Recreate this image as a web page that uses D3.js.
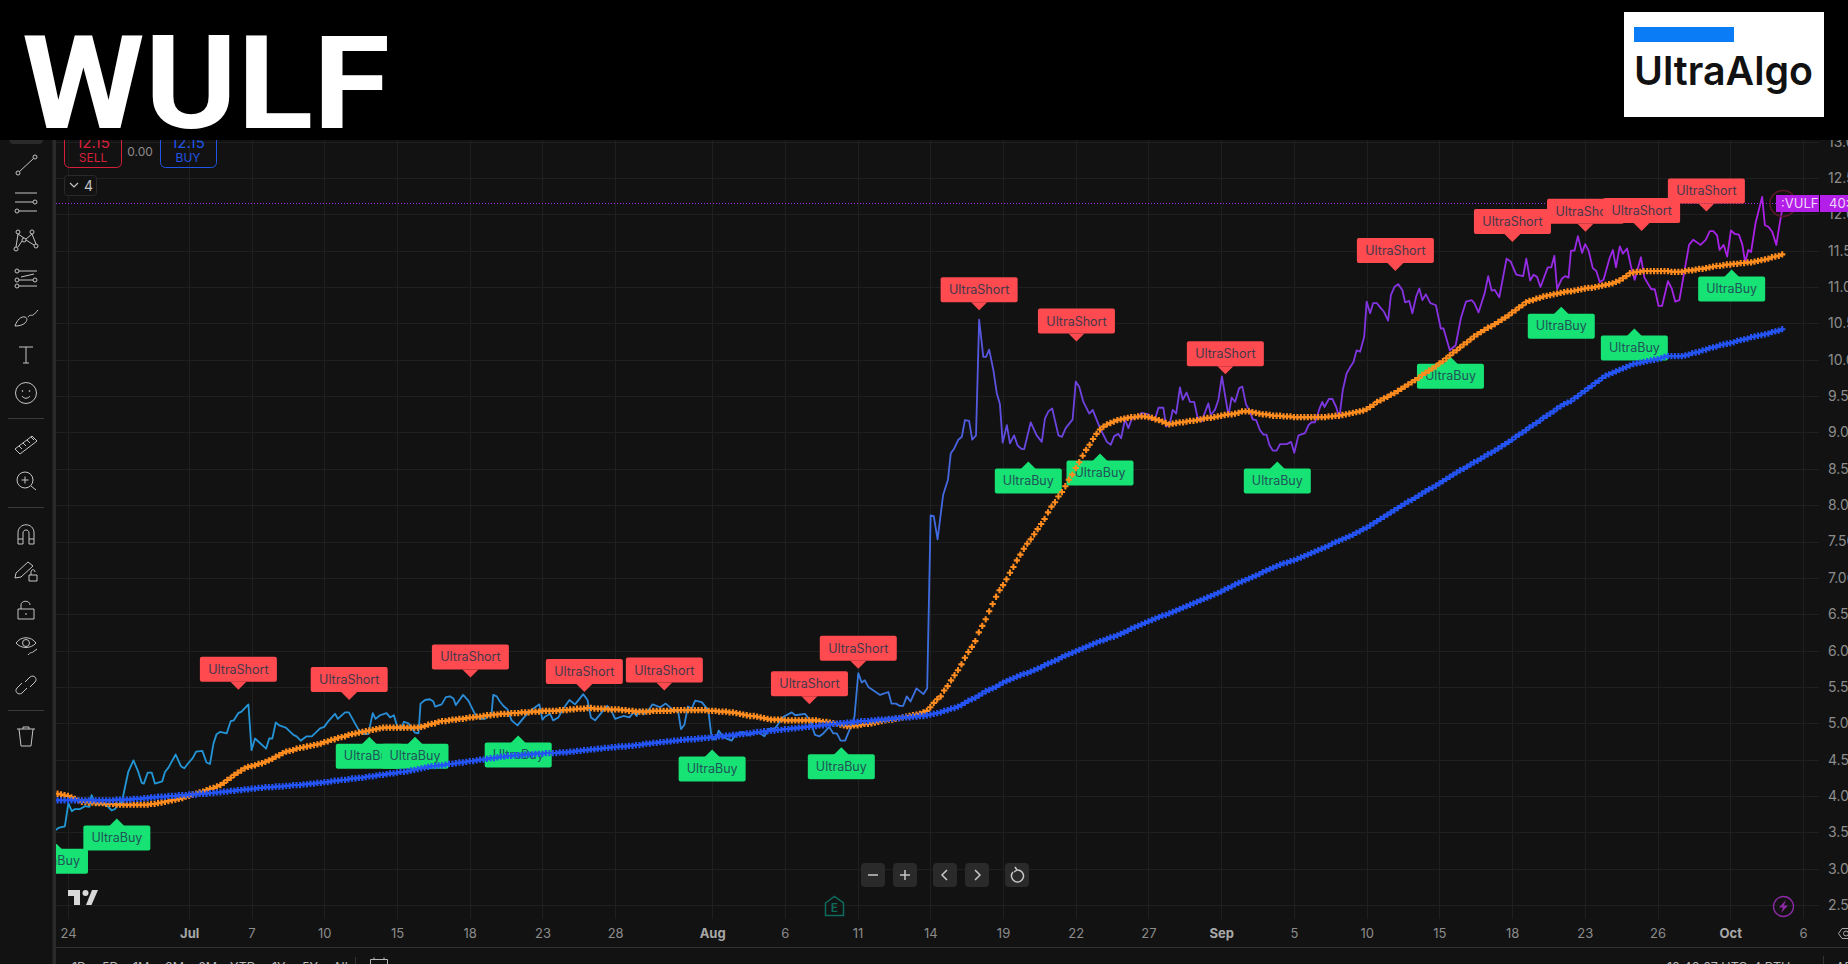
<!DOCTYPE html>
<html>
<head>
<meta charset="utf-8">
<script src="https://cdn.jsdelivr.net/npm/d3@7"></script>
<style>
  html, body { margin: 0; padding: 0; background: #121212; overflow: hidden; }
  text { font-family: Inter, Roboto, sans-serif; }
</style>
</head>
<body>
<div id="chart"></div>
<script>
const ticker = 'WULF'
const brand = 'UltraAlgo'
const lastPrice = 12.15

const priceTicks = [2.5, 3, 3.5, 4, 4.5, 5, 5.5, 6, 6.5, 7, 7.5, 8, 8.5, 9, 9.5, 10, 10.5, 11, 11.5, 12, 12.5, 13]
const timeTickBars = [0, 35, 53, 74, 95, 116, 137, 158, 186, 207, 228, 249, 270, 291, 312, 333, 354, 375, 396, 417, 438, 459, 480, 501]
const timeTickLabels = ['24', 'Jul', '7', '10', '15', '18', '23', '28', 'Aug', '6', '11', '14', '19', '22', '27', 'Sep', '5', '10', '15', '18', '23', '26', 'Oct', '6']
const monthLabels = ['Jul', 'Aug', 'Sep', 'Oct']

// [bar, price], bar 0 is the session of the 24th
const pricePoints = [
  [-3.5,3.53],[-2.8,3.56],[-0.9,3.58],[0.1,3.90],[1.1,3.79],[2,3.82],[3.5,3.82],[4.9,3.86],[6.2,3.85],[6.8,4.01],
  [8,3.88],[9.7,3.89],[11.2,3.87],[12.6,3.80],[13.6,3.82],[14.5,3.89],[15.5,3.90],[16.5,4.13],[17.4,4.33],[18.9,4.49],
  [20.3,4.33],[21.3,4.18],[21.9,4.17],[23,4.32],[24.2,4.32],[25.1,4.17],[27.2,4.20],[28,4.33],[29,4.39],[31.1,4.57],
  [32.6,4.41],[33.6,4.38],[34.7,4.45],[36,4.52],[37,4.61],[38.8,4.62],[40,4.46],[41,4.44],[42,4.72],[42.9,4.85],
  [43.9,4.88],[45.8,4.86],[47,5.03],[47.9,5.04],[49.2,5.14],[50.1,5.16],[52.1,5.26],[53,4.63],[54,4.79],[57.2,4.65],
  [58.1,4.79],[59,4.79],[60,5.01],[61,4.97],[62.9,4.94],[65.1,4.84],[66,4.82],[67.2,4.76],[68.9,4.82],[70.4,4.82],
  [72.8,4.93],[74,4.95],[75.2,5.03],[77.1,5.13],[77.9,5.06],[80,5.15],[81.1,5.15],[83.8,4.92],[85.3,4.85],[86.7,4.85],
  [88,5.14],[88.8,5.06],[90.1,5.11],[92,5.14],[93,5.08],[94.1,5.11],[94.9,4.98],[96.1,4.91],[97,5.02],[98.3,5.00],
  [100.2,4.87],[101.2,4.86],[101.8,5.27],[103.1,5.32],[104.5,5.33],[105.5,5.30],[106,5.23],[107.9,5.26],[109.1,5.36],[110.3,5.37],
  [111.3,5.34],[112,5.25],[114.1,5.39],[115.6,5.31],[117.5,5.13],[119,5.06],[120.4,5.06],[122.3,5.13],[122.8,5.39],[123.8,5.37],
  [124.7,5.30],[125.7,5.24],[126.9,5.19],[128.1,5.04],[129.8,4.97],[131.5,5.07],[133.4,5.17],[136.1,5.26],[137,5.05],[137.7,5.09],
  [139.2,5.13],[140.1,5.04],[141.6,5.08],[143,5.20],[144.8,5.32],[146.4,5.26],[148.8,5.40],[150,5.32],[151,5.08],[152.2,5.04],
  [155.7,5.24],[157,5.16],[158,5.06],[160.4,5.10],[162.1,5.08],[163.3,5.15],[164.2,5.10],[165.2,5.19],[166.1,5.12],[167.6,5.18],
  [168.8,5.26],[171,5.22],[172.6,5.27],[174.8,5.18],[176.2,5.16],[177,4.92],[178,4.98],[179,5.23],[180.1,5.20],[181.1,5.31],
  [183,5.29],[184.9,5.18],[185.9,4.78],[187.1,4.78],[187.9,4.90],[189.2,4.81],[191.6,4.76],[192.9,4.85],[195,4.88],[196.5,4.84],
  [199.3,4.88],[201.1,4.82],[202.2,4.92],[204.2,4.93],[206.6,5.09],[209,5.15],[210,5.11],[212.8,5.13],[214.3,5.04],[215.7,4.84],
  [217,4.82],[218.1,4.86],[219.8,4.95],[221,4.86],[222,4.86],[223.1,4.76],[224.4,4.76],[226.3,4.98],[227.1,5.09],[228.2,5.69],
  [229.2,5.56],[230.1,5.59],[231.1,5.50],[234.5,5.39],[236.9,5.43],[237.8,5.27],[239.1,5.27],[240.1,5.24],[241.2,5.24],[242.2,5.37],
  [243.3,5.30],[245,5.48],[247,5.40],[248.1,5.48],[249.1,7.86],[250,7.85],[251.1,7.53],[252.7,8.14],[254.1,8.35],[254.9,8.71],
  [255.9,8.78],[257.1,8.90],[258.1,8.94],[259,9.17],[260.2,9.16],[261.1,8.90],[262.2,8.96],[263.1,10.55],[264.3,10.04],[265.1,10.04],
  [266,10.14],[267.2,9.86],[268.2,9.54],[269.1,9.39],[269.9,8.86],[271.1,9.10],[272,8.85],[273.2,8.96],[274.2,8.82],[275.4,8.77],
  [276.1,8.77],[278,9.14],[279.7,8.96],[281.2,8.87],[282.1,9.19],[283.1,9.29],[284.2,9.33],[286,8.96],[287,8.94],[288.1,9.06],
  [290.1,9.18],[291,9.70],[292,9.63],[293.2,9.42],[294.9,9.26],[295.9,9.31],[298,9.06],[300,8.87],[301.1,8.83],[302.1,8.95],
  [303.3,8.98],[304.1,8.92],[305.2,9.18],[306.2,9.06],[307.2,9.19],[309.1,9.21],[310,9.27],[312,9.25],[312.9,9.17],[313.9,9.19],
  [314.9,9.34],[316.3,9.34],[317.1,9.08],[318.2,9.13],[319,9.31],[320,9.26],[321.1,9.62],[321.9,9.45],[323,9.55],[324,9.42],
  [325.2,9.42],[326.1,9.22],[327.3,9.15],[329.3,9.40],[330,9.24],[331.2,9.31],[332.2,9.45],[333.2,9.77],[335.1,9.23],[336,9.48],
  [337,9.42],[338.2,9.61],[339.1,9.63],[340.2,9.38],[341.1,9.31],[342.1,9.18],[343.1,9.17],[344.2,9.03],[345.2,8.97],[346.1,8.97],
  [346.9,8.83],[347.9,8.75],[349,8.75],[350,8.84],[351.9,8.84],[353.2,8.87],[354.1,8.72],[355.3,8.96],[357.2,8.99],[358.2,9.10],
  [359.1,9.14],[360.1,9.14],[361.4,9.33],[362.2,9.42],[362.8,9.35],[364.1,9.46],[365.1,9.46],[366.2,9.35],[367.1,9.20],[368.1,9.58],
  [369.2,9.81],[370.4,9.91],[371.2,9.97],[372.1,10.13],[373.1,10.11],[374.3,10.32],[375,10.80],[376,10.64],[376.9,10.78],[377.9,10.78],
  [378.9,10.72],[380,10.66],[381.2,10.54],[382,10.89],[383,11.00],[384.1,11.04],[385.3,10.96],[386.1,10.79],[387.3,10.81],[388.2,10.64],
  [389.3,10.87],[390.2,10.98],[391.1,10.82],[392.1,10.90],[393.4,10.78],[395,10.75],[396.4,10.43],[397.2,10.43],[399,10.13],[400.7,10.20],
  [402.2,10.57],[403.7,10.80],[405.3,10.82],[406.1,10.78],[407.3,10.65],[409.1,10.92],[410.1,11.15],[411.1,10.95],[412,10.96],[413.3,10.86],
  [415.4,11.39],[416.6,11.35],[418.2,11.17],[420.2,11.15],[421.1,11.39],[422.2,11.09],[423.2,11.17],[424.2,11.14],[425.2,11.00],[427.3,11.27],
  [428.3,11.27],[429.2,11.43],[430,10.97],[431.3,11.11],[432.3,11.15],[433.3,11.13],[434,11.50],[435,11.50],[436,11.70],[437.2,11.47],
  [438.1,11.59],[439.1,11.50],[440.3,11.26],[441.3,11.22],[442.3,11.07],[443.4,11.10],[445.1,11.39],[446.1,11.51],[447,11.27],[448.1,11.56],
  [449,11.46],[450.2,11.53],[451.4,11.27],[452.4,11.10],[454.2,11.41],[455.2,11.13],[457.2,10.97],[458.2,10.97],[459.3,10.74],[460.3,10.74],
  [462,11.08],[463.1,10.98],[464.1,10.80],[465.3,10.82],[466.8,11.23],[468.1,11.58],[469.3,11.65],[471.4,11.58],[472.9,11.65],[474.1,11.77],
  [475.1,11.77],[476.2,11.71],[476.9,11.51],[478.1,11.58],[479.1,11.42],[480.2,11.78],[481.3,11.73],[482.5,11.72],[483.5,11.58],[484.3,11.34],
  [485.2,11.51],[486,11.48],[487.3,11.88],[489.2,12.24],[490,11.85],[491,11.83],[492.1,11.76],[493.3,11.58],[494.3,11.88],[495.3,12.15]
]

// one value per bar, starting at bar -3
const firstMaBar = -3
const orangeValues = [
  4.03,4.02,4.01,
  4.00,3.98,3.96,3.94,3.92,3.92,3.91,3.91,3.90,3.90,
  3.90,3.89,3.89,3.89,3.88,3.88,3.88,3.88,3.88,3.88,
  3.88,3.88,3.88,3.88,3.89,3.89,3.90,3.91,3.92,3.93,
  3.94,3.95,3.96,3.97,3.99,4.00,4.02,4.03,4.05,4.06,
  4.08,4.10,4.11,4.13,4.15,4.18,4.22,4.25,4.29,4.32,
  4.35,4.38,4.40,4.41,4.42,4.44,4.45,4.47,4.49,4.51,
  4.54,4.56,4.59,4.61,4.62,4.63,4.65,4.66,4.67,4.68,
  4.69,4.70,4.71,4.72,4.74,4.75,4.77,4.78,4.80,4.81,
  4.82,4.84,4.85,4.86,4.87,4.88,4.89,4.90,4.91,4.92,
  4.93,4.94,4.94,4.94,4.94,4.94,4.94,4.94,4.94,4.94,
  4.94,4.94,4.95,4.96,4.98,4.99,5.00,5.02,5.03,5.03,
  5.04,5.05,5.05,5.06,5.06,5.07,5.08,5.08,5.09,5.09,
  5.10,5.11,5.11,5.12,5.12,5.13,5.13,5.13,5.14,5.14,
  5.14,5.15,5.15,5.15,5.16,5.16,5.16,5.17,5.17,5.17,
  5.17,5.17,5.18,5.18,5.18,5.19,5.19,5.20,5.20,5.20,
  5.21,5.21,5.20,5.20,5.20,5.20,5.19,5.19,5.19,5.19,
  5.18,5.18,5.17,5.17,5.16,5.16,5.16,5.16,5.16,5.17,
  5.17,5.17,5.17,5.17,5.17,5.18,5.18,5.18,5.18,5.18,
  5.18,5.18,5.18,5.18,5.18,5.17,5.17,5.17,5.16,5.16,
  5.16,5.15,5.15,5.14,5.13,5.12,5.11,5.10,5.10,5.09,
  5.08,5.07,5.06,5.05,5.05,5.05,5.05,5.04,5.04,5.04,
  5.04,5.04,5.04,5.04,5.04,5.04,5.04,5.03,5.02,5.02,
  5.01,5.00,4.99,4.98,4.97,4.96,4.96,4.97,4.97,4.98,
  4.99,4.99,5.00,5.01,5.02,5.03,5.04,5.05,5.05,5.06,
  5.07,5.08,5.09,5.10,5.11,5.12,5.13,5.15,5.17,5.22,
  5.28,5.33,5.37,5.45,5.51,5.59,5.66,5.73,5.81,5.90,
  5.98,6.05,6.13,6.25,6.34,6.43,6.54,6.64,6.74,6.83,
  6.90,6.98,7.07,7.15,7.24,7.32,7.40,7.47,7.53,7.60,
  7.67,7.74,7.81,7.90,7.98,8.04,8.12,8.18,8.26,8.35,
  8.42,8.51,8.59,8.68,8.76,8.83,8.91,8.98,9.04,9.08,
  9.11,9.13,9.15,9.17,9.18,9.19,9.20,9.21,9.21,9.22,
  9.22,9.22,9.21,9.20,9.18,9.17,9.15,9.13,9.11,9.12,
  9.13,9.14,9.14,9.15,9.16,9.16,9.17,9.18,9.19,9.20,
  9.20,9.21,9.22,9.23,9.24,9.25,9.25,9.26,9.27,9.29,
  9.29,9.29,9.28,9.27,9.26,9.25,9.25,9.24,9.23,9.23,
  9.23,9.22,9.22,9.22,9.21,9.21,9.21,9.21,9.21,9.21,
  9.21,9.21,9.21,9.21,9.22,9.22,9.23,9.23,9.24,9.25,
  9.26,9.27,9.28,9.29,9.30,9.32,9.35,9.38,9.42,9.44,
  9.47,9.49,9.52,9.54,9.57,9.60,9.63,9.66,9.69,9.72,
  9.75,9.79,9.82,9.85,9.88,9.91,9.95,9.98,10.02,10.06,
  10.10,10.13,10.17,10.21,10.24,10.28,10.32,10.35,10.38,10.41,
  10.44,10.46,10.49,10.52,10.55,10.58,10.61,10.65,10.68,10.72,
  10.75,10.79,10.81,10.82,10.84,10.85,10.87,10.88,10.89,10.90,
  10.91,10.92,10.93,10.94,10.94,10.95,10.96,10.97,10.98,10.99,
  10.99,11.00,11.01,11.02,11.03,11.04,11.05,11.07,11.09,11.12,
  11.15,11.19,11.20,11.21,11.21,11.22,11.22,11.22,11.22,11.22,
  11.22,11.22,11.22,11.21,11.21,11.21,11.21,11.22,11.23,11.23,
  11.24,11.25,11.25,11.26,11.27,11.28,11.29,11.29,11.30,11.31,
  11.31,11.32,11.32,11.33,11.33,11.34,11.34,11.35,11.36,11.37,
  11.38,11.39,11.41,11.42,11.43,11.45
]
const blueValues = [
  3.94,3.94,3.94,
  3.94,3.94,3.94,3.94,3.94,3.94,3.94,3.94,3.94,3.94,
  3.94,3.94,3.94,3.94,3.95,3.95,3.95,3.95,3.95,3.96,
  3.96,3.96,3.97,3.97,3.98,3.98,3.99,3.99,3.99,4.00,
  4.00,4.00,4.01,4.01,4.01,4.02,4.02,4.02,4.03,4.03,
  4.03,4.04,4.04,4.05,4.05,4.06,4.06,4.07,4.07,4.08,
  4.08,4.09,4.09,4.10,4.10,4.11,4.11,4.12,4.12,4.12,
  4.13,4.13,4.13,4.14,4.14,4.15,4.15,4.15,4.16,4.16,
  4.17,4.17,4.18,4.18,4.19,4.19,4.20,4.21,4.21,4.22,
  4.22,4.23,4.24,4.24,4.25,4.25,4.26,4.27,4.27,4.28,
  4.29,4.29,4.30,4.31,4.31,4.32,4.33,4.33,4.34,4.35,
  4.36,4.37,4.38,4.39,4.40,4.41,4.41,4.42,4.42,4.43,
  4.44,4.44,4.45,4.46,4.46,4.47,4.48,4.48,4.49,4.50,
  4.50,4.51,4.52,4.52,4.53,4.54,4.54,4.55,4.55,4.56,
  4.56,4.56,4.57,4.57,4.57,4.58,4.58,4.58,4.59,4.59,
  4.59,4.59,4.60,4.60,4.60,4.61,4.61,4.62,4.62,4.63,
  4.63,4.64,4.64,4.65,4.65,4.66,4.66,4.67,4.67,4.68,
  4.68,4.68,4.69,4.69,4.70,4.70,4.71,4.72,4.72,4.73,
  4.73,4.74,4.74,4.75,4.75,4.76,4.76,4.77,4.77,4.78,
  4.78,4.78,4.79,4.79,4.80,4.80,4.81,4.81,4.82,4.82,
  4.83,4.83,4.84,4.84,4.85,4.85,4.86,4.86,4.87,4.88,
  4.88,4.89,4.89,4.90,4.90,4.91,4.91,4.92,4.92,4.93,
  4.93,4.94,4.94,4.95,4.95,4.96,4.96,4.97,4.97,4.98,
  4.98,4.99,4.99,5.00,5.00,5.01,5.01,5.02,5.02,5.03,
  5.03,5.03,5.04,5.04,5.05,5.05,5.05,5.06,5.06,5.07,
  5.07,5.08,5.08,5.08,5.09,5.09,5.10,5.10,5.11,5.12,
  5.13,5.14,5.15,5.17,5.18,5.20,5.21,5.23,5.25,5.28,
  5.31,5.33,5.35,5.38,5.41,5.44,5.46,5.48,5.50,5.53,
  5.56,5.58,5.60,5.62,5.64,5.66,5.68,5.69,5.71,5.73,
  5.75,5.77,5.80,5.82,5.84,5.86,5.88,5.91,5.93,5.95,
  5.97,5.99,6.01,6.03,6.05,6.07,6.09,6.11,6.13,6.14,
  6.16,6.18,6.19,6.21,6.23,6.25,6.27,6.30,6.32,6.34,
  6.36,6.38,6.40,6.42,6.44,6.46,6.48,6.49,6.51,6.53,
  6.55,6.57,6.59,6.61,6.63,6.65,6.67,6.69,6.71,6.73,
  6.75,6.77,6.79,6.81,6.84,6.86,6.88,6.91,6.93,6.95,
  6.97,6.99,7.01,7.03,7.05,7.08,7.10,7.12,7.14,7.16,
  7.18,7.20,7.21,7.23,7.24,7.26,7.28,7.30,7.32,7.34,
  7.36,7.38,7.40,7.42,7.44,7.47,7.49,7.51,7.53,7.55,
  7.57,7.59,7.62,7.64,7.67,7.69,7.72,7.75,7.78,7.81,
  7.84,7.87,7.90,7.93,7.96,7.99,8.02,8.05,8.07,8.10,
  8.13,8.16,8.19,8.22,8.24,8.27,8.30,8.33,8.36,8.39,
  8.42,8.45,8.48,8.50,8.53,8.56,8.59,8.61,8.64,8.67,
  8.70,8.72,8.75,8.78,8.81,8.84,8.87,8.90,8.94,8.97,
  9.00,9.03,9.07,9.10,9.13,9.16,9.20,9.23,9.26,9.29,
  9.33,9.36,9.39,9.41,9.43,9.47,9.50,9.54,9.57,9.61,
  9.64,9.68,9.71,9.75,9.78,9.80,9.82,9.84,9.86,9.88,
  9.90,9.92,9.94,9.95,9.96,9.97,9.98,9.99,10.00,10.01,
  10.02,10.04,10.05,10.05,10.05,10.05,10.05,10.06,10.07,10.09,
  10.10,10.11,10.13,10.14,10.16,10.17,10.18,10.20,10.21,10.22,
  10.23,10.24,10.26,10.27,10.28,10.29,10.31,10.32,10.33,10.34,
  10.35,10.36,10.38,10.39,10.40,10.42
]

// signal flags: the bar and the price the arrow tip points at
const shortBars = [49.2, 81.2, 116.2, 149.1, 172.2, 214.1, 228.2, 263.1, 291.2, 334.2, 383.3, 417.1, 438.2, 454.4, 473.1]
const shortPrices = [5.46, 5.32, 5.63, 5.43, 5.45, 5.26, 5.75, 10.68, 10.25, 9.80, 11.22, 11.62, 11.76, 11.77, 12.04]
const buyBars = [-3.9, 14.1, 87, 100.2, 130, 186, 223.3, 277.3, 298, 349.2, 399.2, 431.2, 452.3, 480.4]
const buyPrices = [3.37, 3.69, 4.815, 4.815, 4.83, 4.64, 4.67, 8.60, 8.71, 8.60, 10.04, 10.73, 10.43, 11.24]

const rangeButtons = ['1D', '5D', '1M', '3M', '6M', 'YTD', '1Y', '5Y', 'All']
const rangeButtonX = [72, 102, 133, 165, 198, 230, 272, 302, 333]

const paneLeft = 56
const paneRight = 1819
const paneTop = 140
const paneBottom = 919

const svg = d3.select('#chart').append('svg')
  .attr('width', 1848)
  .attr('height', 964)
  .style('display', 'block')

const x = d3.scaleLinear().domain([0, 501]).range([68, 1803])
const y = d3.scaleLinear().domain([2.5, 13]).range([905, 141.65])

const defs = svg.append('defs')
defs.append('clipPath').attr('id', 'pane').append('rect')
  .attr('x', paneLeft)
  .attr('y', paneTop)
  .attr('width', paneRight - paneLeft)
  .attr('height', paneBottom - paneTop)

const lineGradient = defs.append('linearGradient')
  .attr('id', 'priceStroke')
  .attr('gradientUnits', 'userSpaceOnUse')
  .attr('x1', paneLeft).attr('x2', 1790)
  .attr('y1', 0).attr('y2', 0)
lineGradient.selectAll('stop')
  .data([[0, '#1f9ad6'], [0.42, '#3282d8'], [0.5, '#3b6fe0'], [0.56, '#6a45e0'], [0.75, '#7f35e0'], [1, '#b01fe8']])
  .join('stop')
  .attr('offset', d => d[0])
  .attr('stop-color', d => d[1])

svg.append('rect')
  .attr('width', 1848)
  .attr('height', 964)
  .attr('fill', '#121212')

// grid
const grid = svg.append('g').attr('stroke', '#1f1f1f')
grid.selectAll('.h')
  .data(priceTicks)
  .join('line')
  .attr('x1', paneLeft).attr('x2', paneRight)
  .attr('y1', d => Math.round(y(d)) + 0.5)
  .attr('y2', d => Math.round(y(d)) + 0.5)
grid.selectAll('.v')
  .data(timeTickBars)
  .join('line')
  .attr('y1', paneTop).attr('y2', paneBottom)
  .attr('x1', d => Math.round(x(d)) + 0.5)
  .attr('x2', d => Math.round(x(d)) + 0.5)

// axes
const xAxis = d3.axisBottom(x)
  .tickValues(timeTickBars)
  .tickSize(0)
  .tickPadding(0)
  .tickFormat((d, i) => timeTickLabels[i])
const xAxisG = svg.append('g')
  .attr('transform', 'translate(0, 929)')
  .call(xAxis)
xAxisG.select('.domain').remove()
xAxisG.selectAll('text')
  .attr('fill', d => monthLabels.includes(timeTickLabels[timeTickBars.indexOf(d)]) ? '#a8a8a8' : '#8c8c8c')
  .attr('font-weight', d => monthLabels.includes(timeTickLabels[timeTickBars.indexOf(d)]) ? 700 : 400)
  .style('font-size', '13px')
  .style('font-family', 'Inter, sans-serif')

const yAxis = d3.axisRight(y)
  .tickValues(priceTicks)
  .tickSize(0)
  .tickPadding(0)
  .tickFormat(d3.format('.2f'))
const yAxisG = svg.append('g')
  .attr('transform', 'translate(1828, 0)')
  .call(yAxis)
yAxisG.select('.domain').remove()
yAxisG.selectAll('text')
  .attr('fill', '#8c8c8c')
  .style('font-size', '14px')
  .style('font-family', 'Inter, sans-serif')

svg.append('line')
  .attr('x1', paneLeft).attr('x2', 1848)
  .attr('y1', 947.5).attr('y2', 947.5)
  .attr('stroke', '#333')

// marks
const pane = svg.append('g').attr('clip-path', 'url(#pane)')

pane.append('line')
  .attr('x1', paneLeft).attr('x2', x(495.3))
  .attr('y1', Math.floor(y(lastPrice)) + 0.5).attr('y2', Math.floor(y(lastPrice)) + 0.5)
  .attr('stroke', '#a32be8')
  .attr('stroke-dasharray', '1 2')

function drawFlags(bars, prices, color, textColor, width, up, label) {
  const flags = pane.append('g')
    .selectAll('g')
    .data(bars)
    .join('g')
    .attr('transform', (d, i) => 'translate(' + x(d) + ',' + y(prices[i]) + ')')
  const dir = up ? 1 : -1
  flags.append('path')
    .attr('fill', color)
    .attr('d', 'M0 0L-8 ' + dir * 8 + 'L8 ' + dir * 8 + 'Z')
  flags.append('rect')
    .attr('fill', color)
    .attr('x', -width / 2)
    .attr('y', up ? 7 : -33)
    .attr('width', width)
    .attr('height', 25)
    .attr('rx', 2)
  flags.append('text')
    .attr('fill', textColor)
    .attr('text-anchor', 'middle')
    .attr('y', up ? 23.5 : -16)
    .attr('font-size', 12.5)
    .text(label)
}

drawFlags(shortBars, shortPrices, '#ff4a50', '#45384a', 77, false, 'UltraShort')
drawFlags(buyBars, buyPrices, '#17e274', '#1f5558', 67, true, 'UltraBuy')

const priceLine = d3.line()
  .x(d => x(d[0]))
  .y(d => y(d[1]))
pane.append('path')
  .datum(pricePoints)
  .attr('fill', 'none')
  .attr('stroke', 'url(#priceStroke)')
  .attr('stroke-width', 1.8)
  .attr('stroke-linejoin', 'round')
  .attr('d', priceLine)

const cross = d3.symbol().type(d3.symbolCross).size(22)
function drawCrosses(values, color) {
  pane.append('g')
    .attr('fill', color)
    .selectAll('path')
    .data(values)
    .join('path')
    .attr('transform', (d, i) => 'translate(' + x(i + firstMaBar) + ',' + y(d) + ')')
    .attr('d', cross)
}
drawCrosses(orangeValues, '#ff8c1f')
drawCrosses(blueValues, '#2454f5')

// left toolbar
svg.append('rect')
  .attr('x', 52.5).attr('y', paneTop)
  .attr('width', 3.5).attr('height', 824)
  .attr('fill', '#2a2a2a')
svg.append('rect')
  .attr('x', 9.5).attr('y', 130)
  .attr('width', 33.5).attr('height', 14)
  .attr('rx', 4)
  .attr('fill', '#2a2a2a')

const dot = (cx, cy, r) => 'M' + (cx - r) + ' ' + cy + 'a' + r + ' ' + r + ' 0 1 0 ' + 2 * r + ' 0a' + r + ' ' + r + ' 0 1 0 ' + -2 * r + ' 0'
const toolIcons = [
  [165, dot(-8, 8, 2) + dot(9, -8, 2) + 'M-6.5 6.5L7.5 -6.5'],
  [202, 'M-11 -9H11M-11 0H7M-7 9H11' + dot(9, 0, 2) + dot(-9, 9, 2)],
  [240, dot(-8, -8, 2) + dot(6, -8, 2) + dot(-10, 9, 2) + dot(10, 6, 2) + dot(-2, 0, 2) + 'M-8 -6L-10 7M-8 -6L-2 -2M0 0L8 5M6 -6L10 4M6 -6L0 -1M-4 1L-8 7'],
  [279, dot(-9, -8, 2) + dot(-9, 1, 2) + dot(-9, 7, 2) + dot(9, 1, 2) + 'M-7 -8H11M-7 1H7M-7 7H11M-5 -2L8 -5'],
  [318, 'M-11 8C-9 2 -5 -2 -1 -1C2 0 1 3 -1 5C-3 7 -7 8 -11 8ZM2 -1C4 -4 6 -2 7 -3C9 -4 10 -6 12 -8'],
  [355, 'M-7 -8H7M0 -8V8M-3 8H3'],
  [393, dot(0, 0, 10.5) + dot(-3.5, -2, 0.5) + dot(3.5, -2, 0.5) + 'M-4 3C-2 6 2 6 4 3'],
  [444, 'M-11 5L6 -8L11 -3L-6 10ZM-7 2L-4 5M-3 -1L0 2M1 -4L4 -1M5 -7L8 -4'],
  [481, dot(-1, -1, 8) + 'M5 5L10 9M-4.5 -1H2.5M-1 -4.5V2.5'],
  [534, 'M-8 10V-1C-8 -12 8 -12 8 -1V10H3V-1C3 -5 -3 -5 -3 -1V10ZM-8 5H-3M3 5H8'],
  [571, 'M-10 2L2 -9L7 -5L-5 6L-11 7ZM3 4H11V10H3ZM5 4V1C5 -2 9 -2 9 1'],
  [610, 'M-8 -1H8V9H-8ZM-5 -1V-5C-5 -10 4 -10 4 -5M0 3V5'],
  [646, 'M-10 -3C-5 -10 5 -10 10 -3C5 3 -5 3 -10 -3Z' + dot(0, -3, 3.5) + 'M2 9C4 6 6 7 7 6L11 3'],
  [685, 'M-1 -3L4 -8C8 -11 12 -6 9 -3L4 2M1 3L-4 8C-8 11 -12 6 -9 3L-4 -2'],
  [736, 'M-9 -7H9M-7 -7L-5 10H5L7 -7M-3 -7V-9H3V-7']
]
const tools = svg.append('g')
  .attr('fill', 'none')
  .attr('stroke', '#c4c4c4')
  .attr('stroke-width', 1)
tools.selectAll('path')
  .data(toolIcons)
  .join('path')
  .attr('transform', d => 'translate(26,' + d[0] + ')')
  .attr('d', d => d[1])
svg.append('g')
  .attr('stroke', '#3a3a3a')
  .selectAll('line')
  .data([418.5, 507.5, 710.5])
  .join('line')
  .attr('x1', 8).attr('x2', 44)
  .attr('y1', d => d).attr('y2', d => d)

// trade widget
svg.append('rect')
  .attr('x', 64.5).attr('y', 130)
  .attr('width', 57).attr('height', 37.5)
  .attr('rx', 5)
  .attr('fill', 'none').attr('stroke', '#d81f3a')
svg.append('rect')
  .attr('x', 160.5).attr('y', 130)
  .attr('width', 56).attr('height', 37.5)
  .attr('rx', 5)
  .attr('fill', 'none').attr('stroke', '#2155e6')
const widgetText = [
  [93, 148, '12.15', '#d81f3a', 15],
  [93, 162, 'SELL', '#d81f3a', 12],
  [140, 156, '0.00', '#8c8c8c', 12],
  [188, 148, '12.15', '#2155e6', 15],
  [188, 162, 'BUY', '#2155e6', 12]
]
svg.append('g').selectAll('text')
  .data(widgetText)
  .join('text')
  .attr('x', d => d[0]).attr('y', d => d[1])
  .attr('fill', d => d[3])
  .attr('font-size', d => d[4])
  .attr('text-anchor', 'middle')
  .text(d => d[2])
svg.append('rect')
  .attr('x', 64.5).attr('y', 175.5)
  .attr('width', 32).attr('height', 20)
  .attr('rx', 3)
  .attr('fill', '#121212').attr('stroke', '#2a2a2a')
svg.append('path')
  .attr('d', 'M70 183L74 187L78 183')
  .attr('fill', 'none').attr('stroke', '#c4c4c4').attr('stroke-width', 1.2)
svg.append('text')
  .attr('x', 84).attr('y', 191)
  .attr('fill', '#c4c4c4').attr('font-size', 14)
  .text('4')

// last price tag
svg.append('circle')
  .attr('cx', 1783).attr('cy', y(lastPrice)).attr('r', 13)
  .attr('fill', 'none').attr('stroke', '#5a1a2a').attr('stroke-width', 1.5)
svg.append('rect')
  .attr('x', 1776).attr('y', 195)
  .attr('width', 43).attr('height', 17)
  .attr('fill', '#b31ee8')
svg.append('rect')
  .attr('x', 1820).attr('y', 195)
  .attr('width', 28).attr('height', 17)
  .attr('fill', '#b31ee8')
svg.append('text')
  .attr('x', 1781).attr('y', 208)
  .attr('fill', '#f2d6fb').attr('font-size', 13)
  .text(':VULF')
svg.append('text')
  .attr('x', 1829).attr('y', 208)
  .attr('fill', '#f2d6fb').attr('font-size', 13)
  .text('40:')

// pane furniture
svg.append('path')
  .attr('d', 'M68 890H80V905H74V896H68ZM92 890H98L91.5 905H86Z')
  .attr('fill', '#d8d8d8')
svg.append('circle')
  .attr('cx', 85.5).attr('cy', 893).attr('r', 3)
  .attr('fill', '#d8d8d8')
svg.append('path')
  .attr('d', 'M825.5 903L834.5 896.5L843.5 903V915.5H825.5Z')
  .attr('fill', 'none').attr('stroke', '#0e6b5e').attr('stroke-width', 1.5)
svg.append('text')
  .attr('x', 834.5).attr('y', 912)
  .attr('text-anchor', 'middle')
  .attr('fill', '#0e6b5e').attr('font-size', 12).attr('font-weight', 600)
  .text('E')
svg.append('circle')
  .attr('cx', 1783.5).attr('cy', 906.5).attr('r', 10)
  .attr('fill', 'none').attr('stroke', '#8e2aa8').attr('stroke-width', 1.3)
svg.append('path')
  .attr('d', 'M1786 900L1779 907.5H1783L1781 913L1788 905.5H1784Z')
  .attr('fill', '#8e2aa8')

const controls = [
  [861, 'M7 12H17'],
  [893, 'M7 12H17M12 7V17'],
  [933, 'M14 7L9 12L14 17'],
  [965, 'M10 7L15 12L10 17'],
  [1005, 'M8 9A6 6 0 1 0 12 7M12 7L10 4M12 7L9 9']
]
const controlG = svg.append('g')
  .selectAll('g')
  .data(controls)
  .join('g')
  .attr('transform', d => 'translate(' + d[0] + ',863)')
controlG.append('rect')
  .attr('width', 24).attr('height', 24).attr('rx', 4)
  .attr('fill', '#2a2a2a')
controlG.append('path')
  .attr('d', d => d[1])
  .attr('fill', 'none').attr('stroke', '#c8c8c8').attr('stroke-width', 1.5)

svg.append('path')
  .attr('d', 'M1848 928.5H1842L1838.5 933.5L1842 938.5H1848')
  .attr('fill', 'none').attr('stroke', '#a8a8a8')
svg.append('circle')
  .attr('cx', 1846).attr('cy', 933.5).attr('r', 2.5)
  .attr('fill', 'none').attr('stroke', '#a8a8a8')

// bottom toolbar, cut by the window
svg.append('g').selectAll('text')
  .data(rangeButtons)
  .join('text')
  .attr('x', (d, i) => rangeButtonX[i])
  .attr('y', 972)
  .attr('fill', '#b8b8b8').attr('font-size', 12.5)
  .text(d => d)
svg.append('line')
  .attr('x1', 355.5).attr('x2', 355.5)
  .attr('y1', 957).attr('y2', 964)
  .attr('stroke', '#333')
svg.append('path')
  .attr('d', 'M370.5 964V959.5H387.5V964M374 957.5V960M384 957.5V960')
  .attr('fill', 'none').attr('stroke', '#b8b8b8')
svg.append('text')
  .attr('x', 1667).attr('y', 972)
  .attr('fill', '#b8b8b8').attr('font-size', 12.5)
  .text('10:40:07 UTC-4  RTH')
svg.append('line')
  .attr('x1', 1823.5).attr('x2', 1823.5)
  .attr('y1', 956).attr('y2', 964)
  .attr('stroke', '#333')
svg.append('text')
  .attr('x', 1836).attr('y', 972)
  .attr('fill', '#b8b8b8').attr('font-size', 12.5)
  .text('ADJ')

// header band with ticker and logo
svg.append('rect')
  .attr('width', 1848).attr('height', paneTop)
  .attr('fill', '#000')
svg.append('text')
  .attr('x', 22).attr('y', 128)
  .attr('fill', '#fff')
  .attr('font-weight', 700)
  .attr('font-size', 129)
  .attr('textLength', 368)
  .attr('lengthAdjust', 'spacingAndGlyphs')
  .style('font-family', 'Roboto, sans-serif')
  .text(ticker)
svg.append('rect')
  .attr('x', 1624).attr('y', 12)
  .attr('width', 200).attr('height', 105)
  .attr('fill', '#fff')
svg.append('rect')
  .attr('x', 1634).attr('y', 27)
  .attr('width', 100).attr('height', 15)
  .attr('fill', '#0a7cf5')
svg.append('text')
  .attr('x', 1634).attr('y', 85)
  .attr('fill', '#111')
  .attr('font-weight', 600)
  .attr('font-size', 40)
  .attr('textLength', 179)
  .attr('lengthAdjust', 'spacingAndGlyphs')
  .text(brand)
</script>
</body>
</html>
